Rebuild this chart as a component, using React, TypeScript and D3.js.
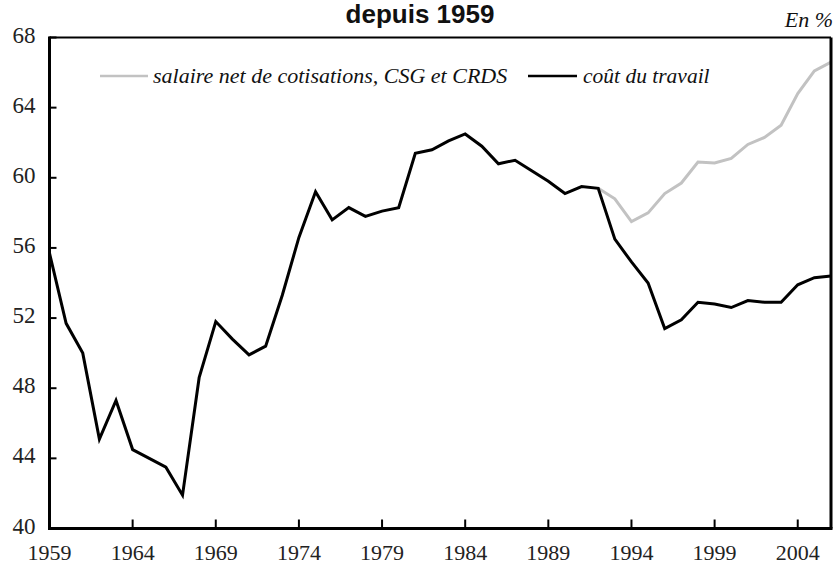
import * as d3 from "d3";

// années et séries
const YEARS = [
  1959, 1960, 1961, 1962, 1963, 1964, 1965, 1966, 1967, 1968, 1969, 1970,
  1971, 1972, 1973, 1974, 1975, 1976, 1977, 1978, 1979, 1980, 1981, 1982,
  1983, 1984, 1985, 1986, 1987, 1988, 1989, 1990, 1991, 1992, 1993, 1994,
  1995, 1996, 1997, 1998, 1999, 2000, 2001, 2002, 2003, 2004, 2005, 2006,
];
const COUT_TRAVAIL = [
  55.7, 51.7, 50.0, 45.1, 47.3, 44.5, 44.0, 43.5, 41.9, 48.6, 51.8, 50.8,
  49.9, 50.4, 53.3, 56.6, 59.2, 57.6, 58.3, 57.8, 58.1, 58.3, 61.4, 61.6,
  62.1, 62.5, 61.8, 60.8, 61.0, 60.4, 59.8, 59.1, 59.5, 59.4, 56.5, 55.2,
  54.0, 51.4, 51.9, 52.9, 52.8, 52.6, 53.0, 52.9, 52.9, 53.9, 54.3, 54.4,
];
// avant 1992 la série se confond avec le coût du travail
const SALAIRE_YEARS = [
  1992, 1993, 1994, 1995, 1996, 1997, 1998, 1999, 2000, 2001, 2002, 2003,
  2004, 2005, 2006,
];
const SALAIRE_NET = [
  59.4, 58.8, 57.5, 58.0, 59.1, 59.7, 60.9, 60.85, 61.1, 61.9, 62.3, 63.0,
  64.8, 66.1, 66.6,
];

const X_TICKS = [1959, 1964, 1969, 1974, 1979, 1984, 1989, 1994, 1999, 2004];
const Y_TICKS = [40, 44, 48, 52, 56, 60, 64, 68];

const TITLE = "depuis 1959";
const UNIT = "En %";
const LEGEND_SALAIRE = "salaire net de cotisations, CSG et CRDS";
const LEGEND_COUT = "coût du travail";

const W = 838;
const H = 565;
const margin = { top: 37.5, right: 7, bottom: 36.5, left: 49.5 };
const SERIF = "'Liberation Serif', 'Times New Roman', serif";
const SANS = "'Liberation Sans', Arial, sans-serif";
const GREY = "#c2c2c2";

export default function App() {
  const innerW = W - margin.left - margin.right;
  const innerH = H - margin.top - margin.bottom;

  const x = d3.scaleLinear().domain([1959, 2006]).range([0, innerW]);
  const y = d3.scaleLinear().domain([40, 68]).range([innerH, 0]);

  const line = d3
    .line<[number, number]>()
    .x((d) => x(d[0]))
    .y((d) => y(d[1]));

  const coutPts = YEARS.map((yr, i) => [yr, COUT_TRAVAIL[i]] as [number, number]);
  const salPts = SALAIRE_YEARS.map((yr, i) => [yr, SALAIRE_NET[i]] as [number, number]);

  return (
    <svg
      width={W}
      height={H}
      style={{ position: "absolute", left: 0, top: 0, background: "#fff" }}
    >
      <text
        x={420}
        y={23}
        textAnchor="middle"
        fontFamily={SANS}
        fontWeight="bold"
        fontSize={26}
        fill="#111"
      >
        {TITLE}
      </text>
      <text
        x={833}
        y={27}
        textAnchor="end"
        fontFamily={SERIF}
        fontStyle="italic"
        fontSize={22}
        fill="#111"
      >
        {UNIT}
      </text>

      <g transform={`translate(${margin.left},${margin.top})`}>
        {/* séries */}
        <path d={line(salPts) ?? ""} fill="none" stroke={GREY} strokeWidth={3} />
        <path d={line(coutPts) ?? ""} fill="none" stroke="#000" strokeWidth={3} />

        {/* cadre */}
        <line x1={0} x2={innerW} y1={0} y2={0} stroke="#000" strokeWidth={2} />
        <line x1={innerW} x2={innerW} y1={0} y2={innerH} stroke="#000" strokeWidth={3} />
        <line x1={0} x2={0} y1={-1} y2={innerH + 1.5} stroke="#000" strokeWidth={3} />
        <line x1={-1.5} x2={innerW + 1.5} y1={innerH} y2={innerH} stroke="#000" strokeWidth={3} />

        {/* axe des ordonnées */}
        {Y_TICKS.map((t) => (
          <g key={t} transform={`translate(0,${y(t)})`}>
            <line x1={0} x2={7} stroke="#000" strokeWidth={2} />
            <text
              x={-14}
              y={5}
              textAnchor="end"
              fontFamily={SERIF}
              fontSize={23}
              fill="#222"
            >
              {t}
            </text>
          </g>
        ))}

        {/* axe des abscisses */}
        {X_TICKS.map((t) => (
          <g key={t} transform={`translate(${x(t)},${innerH})`}>
            <line y1={0} y2={-9} stroke="#000" strokeWidth={2} />
            <text
              y={31.5}
              textAnchor="middle"
              fontFamily={SERIF}
              fontSize={22}
              fill="#222"
            >
              {t}
            </text>
          </g>
        ))}
      </g>

      {/* légende */}
      <line x1={100} x2={148} y1={76} y2={76} stroke={GREY} strokeWidth={2.5} />
      <text x={153} y={83} fontFamily={SERIF} fontStyle="italic" fontSize={22} fill="#111">
        {LEGEND_SALAIRE}
      </text>
      <line x1={528} x2={577} y1={76} y2={76} stroke="#000" strokeWidth={2.5} />
      <text x={583} y={83} fontFamily={SERIF} fontStyle="italic" fontSize={21.5} fill="#111">
        {LEGEND_COUT}
      </text>
    </svg>
  );
}
